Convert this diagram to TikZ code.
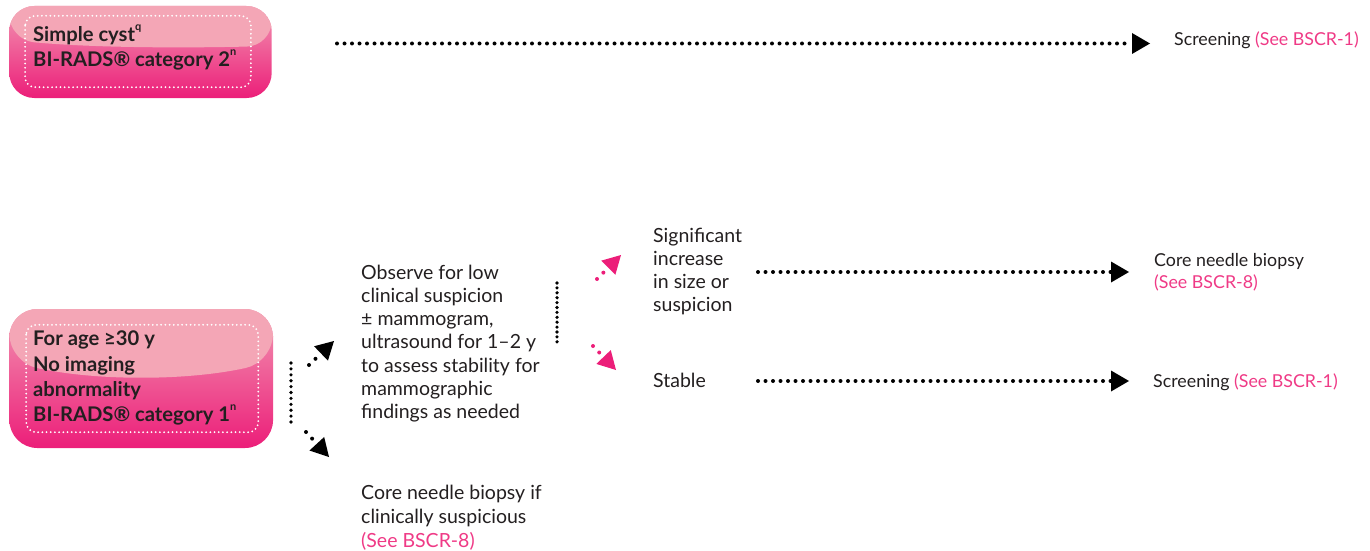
\documentclass[tikz,border=0pt]{standalone}
\usepackage{fontspec}
\setmainfont{Lato}
\usetikzlibrary{arrows.meta,calc}
\definecolor{pinkhi}{HTML}{F4A6B6}
\definecolor{pinktop}{HTML}{F296B2}
\definecolor{pinklo}{HTML}{EC1E79}
\definecolor{pinkarrow}{HTML}{EC1E79}
\definecolor{pinktext}{HTML}{EF3A86}
\definecolor{ink}{HTML}{231F20}
\newcommand\hisup[1]{\raisebox{0.55em}{\fontsize{11}{11}\selectfont #1}}
\begin{document}
\begin{tikzpicture}[x=1pt,y=-1pt,
  % glossy pink box: args = drop of the highlight edge at left, middle, right
  glossy/.style n args={3}{top color=pinktop, bottom color=pinklo, draw=none,
    path picture={
      \fill[pinkhi] (path picture bounding box.north west)
        -- ($(path picture bounding box.north west)+(0,#1)$)
        .. controls ($(path picture bounding box.north west)!0.33!(path picture bounding box.north east)+(0,#2)$)
           and ($(path picture bounding box.north west)!0.67!(path picture bounding box.north east)+(0,#2)$) ..
        ($(path picture bounding box.north east)+(0,#3)$)
        -- (path picture bounding box.north east) -- cycle;}},
  frame/.style={white, line width=2pt, dash pattern=on 0pt off 4.2pt, line cap=round, rounded corners=10pt},
  dots/.style={line width=4pt, dash pattern=on 0pt off 7.5pt, line cap=round},
  bar/.style={line width=3.6pt, line cap=round},
  bighead/.style={-{Triangle[length=18pt,width=21pt,line width=0pt]}},
  smallhead/.style={-{Triangle[length=18pt,width=20pt,line width=0pt]}},
  % multi-line nodes are anchored at the baseline of their last line
  txt/.style={inner sep=0pt, anchor=base west, font=\fontsize{19.5}{23.3}\selectfont, text=ink, align=left},
  sidetxt/.style={inner sep=0pt, anchor=base west, font=\fontsize{17.8}{22}\selectfont, text=ink, align=left},
  boxtxt/.style={inner sep=0pt, anchor=base west, font=\bfseries\fontsize{20.2}{25.3}\selectfont, text=ink, align=left},
]
\useasboundingbox (0,0) rectangle (1370,551);

% ---- boxes ----
\node[glossy={34}{42}{40}, rounded corners=25pt, minimum width=262.4pt, minimum height=92pt] (box1) at (140.5,52) {};
\draw[frame] ($(box1.north west)+(16,10)$) rectangle ($(box1.south east)+(-21,-11)$);
\node[boxtxt, font=\bfseries\fontsize{20.2}{25}\selectfont] (box1txt) at (33,66.7) {Simple cyst\hisup{q}\\BI-RADS® category 2\hisup{n}};

\node[glossy={53}{72}{53}, rounded corners=28pt, minimum width=263.7pt, minimum height=139pt] (box2) at (141.2,378.5) {};
\draw[frame] ($(box2.north west)+(17,16)$) rectangle ($(box2.south east)+(-15,-16)$);
\node[boxtxt] (box2txt) at (33,421.6) {For age ≥30 y\\No imaging\\abnormality\\BI-RADS® category 1\hisup{n}};

% ---- texts ----
\node[sidetxt] (scr1) at (1174,46) {Screening {\color{pinktext}(See BSCR-1)}};
\node[txt] (observe) at (361,418.8) {Observe for low\\clinical suspicion\\± mammogram,\\ultrasound for 1–2 y\\to assess stability for\\mammographic\\findings as needed};
\node[txt, font=\fontsize{19.5}{24}\selectfont] (cnbif) at (361,547.5) {Core needle biopsy if\\clinically suspicious\\{\color{pinktext}(See BSCR-8)}};
\node[txt] (sig) at (653,311.9) {Significant\\increase\\in size or\\suspicion};
\node[txt] (stable) at (653,387) {Stable};
\node[sidetxt] (cnb) at (1154,288) {Core needle biopsy\\{\color{pinktext}(See BSCR-8)}};
\node[sidetxt] (scr2) at (1153,387) {Screening {\color{pinktext}(See BSCR-1)}};

% ---- connector end points ----
\coordinate (a1s) at (337,43.5);   \coordinate (a1e) at (1150,43.5);
\coordinate (b1) at (291,363);     \coordinate (b2) at (291,422);
\coordinate (u1s) at (309,365);    \coordinate (u1e) at (334,341);
\coordinate (d1s) at (306,432);    \coordinate (d1e) at (329,457);
\coordinate (m1) at (557,283);     \coordinate (m2) at (557,342);
\coordinate (u2s) at (597,279);    \coordinate (u2e) at (621,255);
\coordinate (d2s) at (593,346);    \coordinate (d2e) at (616,370);
\coordinate (h1s) at (758,272);    \coordinate (h1e) at (1129,272);
\coordinate (h2s) at (758,381);    \coordinate (h2e) at (1129,381);

% ---- connectors ----
\draw[dots, bighead, black] (a1s) -- (a1e);
\draw[bar, black, dash pattern=on 0pt off 5.9pt] (b1) -- (b2);
\draw[dots, smallhead, black, dash pattern=on 0pt off 9pt] (u1s) -- (u1e);
\draw[dots, smallhead, black, dash pattern=on 0pt off 9pt] (d1s) -- (d1e);
\draw[bar, black, dash pattern=on 0pt off 4.9pt] (m1) -- (m2);
\draw[dots, smallhead, pinkarrow, dash pattern=on 0pt off 9pt] (u2s) -- (u2e);
\draw[dots, smallhead, pinkarrow, dash pattern=on 0pt off 9pt] (d2s) -- (d2e);
\draw[dots, bighead, black] (h1s) -- (h1e);
\draw[dots, bighead, black] (h2s) -- (h2e);
\end{tikzpicture}
\end{document}
